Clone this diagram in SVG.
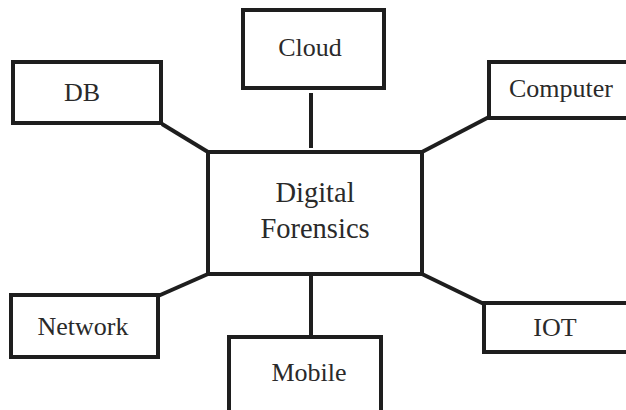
<svg xmlns="http://www.w3.org/2000/svg" width="626" height="410" viewBox="0 0 626 410">
<style>
.box{fill:#fff;stroke:#1e1e1e;stroke-width:4}
.ln{stroke:#1e1e1e;stroke-width:4;fill:none}
text{font-family:"Liberation Serif","Times New Roman",serif;font-size:26px;fill:#2a2a2a;text-anchor:middle}
.big{font-size:28.5px}
</style>
<rect width="626" height="410" fill="#fff"/>
<g id="connectors">
<line class="ln" x1="311" y1="93" x2="311" y2="148"/>
<line class="ln" x1="162" y1="124" x2="208" y2="152"/>
<line class="ln" x1="422" y1="152" x2="489" y2="117"/>
<line class="ln" x1="158" y1="296" x2="208" y2="274"/>
<line class="ln" x1="311" y1="274" x2="311" y2="337"/>
<line class="ln" x1="422" y1="274" x2="484" y2="304"/>
</g>
<g id="center">
<rect class="box" x="208" y="152" width="214" height="122"/>
<text class="big" x="315" y="202">Digital</text>
<text class="big" x="315" y="238">Forensics</text>
</g>
<g id="cloud">
<rect class="box" x="243" y="10" width="141" height="78"/>
<text x="310" y="56">Cloud</text>
</g>
<g id="db">
<rect class="box" x="13" y="62" width="148" height="61"/>
<text x="82" y="101">DB</text>
</g>
<g id="computer">
<rect class="box" x="489" y="62" width="150" height="56"/>
<text x="561" y="97">Computer</text>
</g>
<g id="network">
<rect class="box" x="11" y="295" width="147" height="62"/>
<text x="83" y="335">Network</text>
</g>
<g id="mobile">
<rect class="box" x="229" y="337" width="152" height="80"/>
<text x="309" y="381">Mobile</text>
</g>
<g id="iot">
<rect class="box" x="484" y="303" width="150" height="49"/>
<text x="555" y="336">IOT</text>
</g>
</svg>
